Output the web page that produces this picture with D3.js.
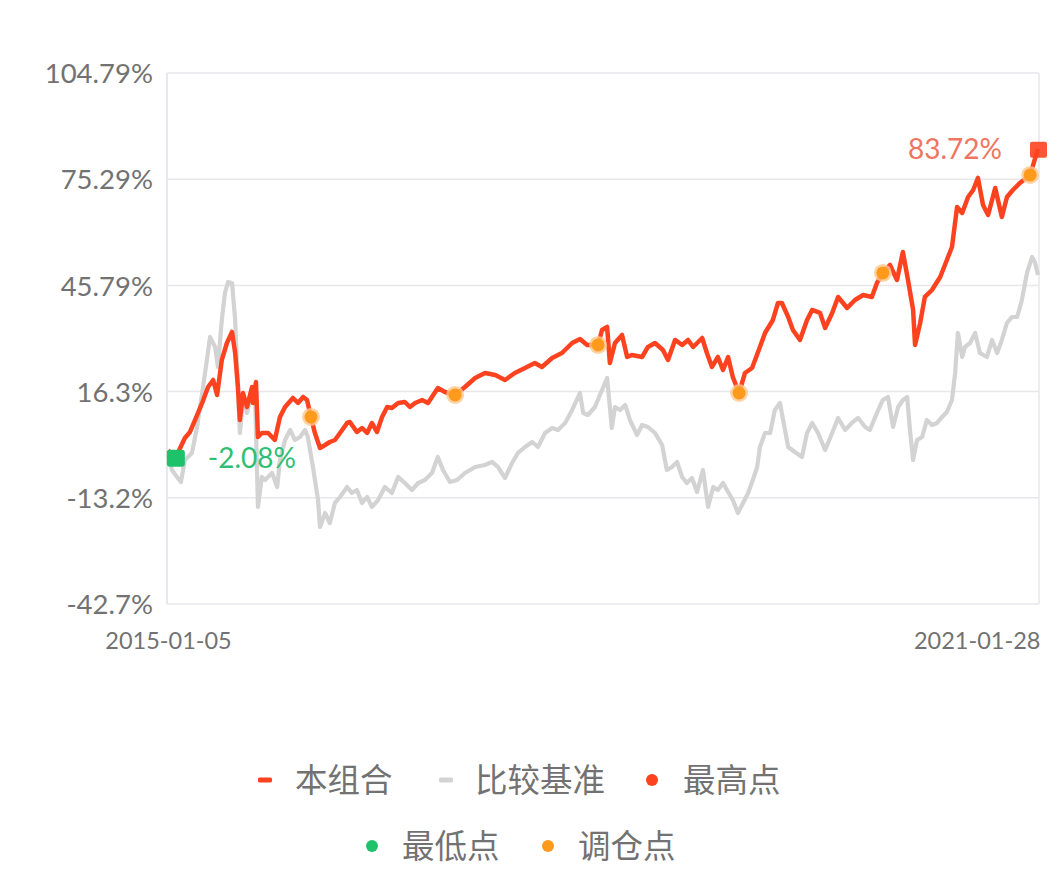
<!DOCTYPE html>
<html>
<head>
<meta charset="utf-8">
<script src="https://cdn.jsdelivr.net/npm/d3@7/dist/d3.min.js"></script>
<style>
  html, body { margin: 0; padding: 0; background: #ffffff; }
  svg { display: block; }
</style>
</head>
<body>
<svg id="chart" width="1063" height="885"></svg>
<script>
// ---- DATA (days since 2015-01-05, cumulative return %) ----
const startDate = "2015-01-05";
const endDate = "2021-01-28";
const xTickLabels = ["2015-01-05", "2021-01-28"];
const yTickValues = [-42.7, -13.2, 16.3, 45.79, 75.29, 104.79];
const yTickLabels = ["-42.7%", "-13.2%", "16.3%", "45.79%", "75.29%", "104.79%"];

const portfolioDays = [0,20,31,43,56,69,87,102,115,125,137,150,163,171,178,183,191,201,214,216,224,229,239,255,272,285,298,318,331,344,354,364,374,387,400,412,425,438,456,463,481,494,507,519,532,545,558,570,586,603,616,629,647,662,672,687,705,731,756,782,807,833,858,883,909,934,952,978,1003,1029,1049,1067,1095,1105,1118,1125,1138,1156,1169,1181,1207,1222,1240,1260,1273,1291,1309,1324,1337,1360,1372,1385,1400,1413,1426,1438,1454,1469,1487,1507,1520,1540,1553,1563,1579,1591,1609,1627,1640,1660,1673,1691,1706,1729,1749,1770,1792,1805,1820,1838,1856,1871,1884,1897,1902,1915,1927,1945,1966,1983,1996,2009,2022,2037,2050,2062,2075,2088,2106,2123,2136,2151,2169,2195,2215];
const portfolioValues = [0.0,-2.08,0.64,3.41,5.08,8.41,13.14,17.58,19.52,15.36,25.08,29.8,32.86,27.02,17.58,8.41,15.91,12.02,17.58,13.14,18.97,3.69,4.8,4.8,2.86,9.25,12.02,14.52,13.14,14.8,13.97,9.25,4.8,0.64,1.47,2.3,2.86,4.8,7.58,7.86,5.08,6.19,4.8,7.58,5.08,9.25,12.02,11.75,13.14,13.41,12.02,13.14,13.97,13.14,14.8,17.3,16.19,15.36,17.58,20.08,21.47,20.91,19.52,21.47,22.86,24.25,23.14,25.64,27.02,29.8,30.91,29.25,29.25,33.41,34.25,24.25,29.8,32.02,25.91,26.47,25.91,28.69,29.8,27.86,25.08,30.64,29.25,30.64,28.69,31.19,27.02,23.14,25.91,22.3,25.91,20.36,15.91,21.47,22.86,28.69,32.58,36.19,40.91,40.91,37.02,33.41,30.64,36.19,38.97,38.14,33.97,38.14,42.58,39.52,41.75,43.14,42.58,46.47,49.25,51.47,47.3,55.08,47.3,38.97,29.25,35.36,42.58,44.52,48.14,52.86,56.47,67.58,65.91,70.36,72.3,75.64,68.14,65.36,72.86,64.8,70.36,72.3,74.25,76.47,83.72];

const benchmarkDays = [0,10,23,33,43,61,74,87,99,107,120,127,137,145,153,163,171,178,183,191,201,214,222,229,239,247,265,278,285,298,311,323,336,349,356,369,382,387,400,412,425,438,456,468,481,494,507,519,535,552,570,586,603,621,637,654,672,687,700,718,736,756,782,807,825,840,858,876,891,909,927,942,960,978,993,1011,1029,1049,1057,1069,1087,1105,1118,1130,1138,1151,1164,1176,1194,1207,1222,1240,1258,1270,1283,1296,1309,1321,1334,1347,1362,1375,1388,1400,1413,1426,1438,1451,1464,1477,1489,1500,1507,1520,1533,1545,1558,1566,1579,1596,1614,1627,1640,1655,1673,1691,1706,1724,1741,1757,1775,1787,1805,1820,1833,1846,1859,1871,1882,1889,1897,1907,1920,1932,1945,1958,1971,1983,1996,2004,2011,2022,2029,2042,2055,2067,2085,2098,2111,2123,2136,2149,2162,2174,2187,2200,2207,2215];
const benchmarkValues = [-1.31,-5.48,-7.42,-8.81,-2.7,-0.75,6.47,15.91,25.08,31.47,28.69,23.14,36.19,43.69,46.75,46.47,36.19,17.58,4.8,13.97,10.36,15.91,13.97,-15.75,-7.42,-8.25,-6.31,-10.2,-2.7,2.86,5.64,2.86,3.69,5.64,3.69,-4.64,-13.81,-21.31,-17.42,-20.2,-14.64,-12.98,-10.2,-11.86,-11.03,-14.64,-12.98,-15.75,-13.81,-10.2,-11.86,-7.42,-9.09,-11.03,-9.09,-8.25,-6.31,-1.86,-5.48,-8.81,-8.25,-6.31,-4.64,-4.09,-3.25,-4.64,-7.7,-3.53,-0.75,0.91,2.3,0.91,4.8,6.19,5.64,7.58,11.19,15.91,10.36,9.8,12.02,16.75,20.08,6.19,12.02,11.19,12.58,8.41,4.25,7.02,6.47,4.8,1.47,-5.48,-4.64,-3.25,-7.42,-9.09,-7.7,-11.59,-5.48,-15.75,-10.2,-11.03,-9.09,-11.59,-13.81,-17.42,-14.64,-11.86,-8.25,-4.64,0.91,4.8,4.8,11.19,13.14,8.41,0.91,-0.48,-1.86,4.8,7.58,4.8,0.08,4.8,8.97,5.64,7.58,8.97,6.47,5.64,10.36,13.97,14.8,6.47,12.02,13.97,14.8,5.64,-2.7,2.86,3.69,8.41,7.02,7.58,9.25,10.64,13.97,21.47,32.58,25.91,28.69,29.8,32.58,27.02,25.91,30.64,27.02,30.64,35.36,37.02,37.02,41.75,49.25,53.69,52.3,48.69];

const rebalanceDays = [364, 731, 1095, 1454, 1820, 2195];
const rebalanceValues = [9.25, 15.36, 29.25, 15.91, 49.25, 76.47];

const minPoint = { day: 20, value: -2.08, label: "-2.08%" };
const maxPoint = { day: 2215, value: 83.72, label: "83.72%" };

const legendRow1 = ["本组合", "比较基准", "最高点"];
const legendRow2 = ["最低点", "调仓点"];

(function draw() {
  const C = {
    red: "#fd4220",
    gray: "#d3d3d3",
    orange: "#ff9a1c",
    green: "#1ec26a",
    maxText: "#ef7560",
    minText: "#2fbf74",
    grid: "#e7e7ec",
    text: "#727272"
  };
  const numFont = "Lato, 'Open Sans', sans-serif";

  const svg = d3.select("#chart");
  const pL = 167, pR = 1039, pT = 73, pB = 604;

  const x = d3.scaleLinear().domain([0, 2215]).range([168, 1038]);
  const y = d3.scaleLinear().domain([-42.7, 104.79]).range([pB, pT]);

  svg.append("g").selectAll("line").data(yTickValues).join("line")
    .attr("x1", pL).attr("x2", pR)
    .attr("y1", d => y(d)).attr("y2", d => y(d))
    .attr("stroke", C.grid).attr("stroke-width", 1.5);

  svg.append("line").attr("x1", pL).attr("x2", pL).attr("y1", pT).attr("y2", pB)
    .attr("stroke", C.grid).attr("stroke-width", 2);
  svg.append("line").attr("x1", pR).attr("x2", pR).attr("y1", pT).attr("y2", pB)
    .attr("stroke", C.grid).attr("stroke-width", 1.5);

  const yAxis = d3.axisLeft(y).tickValues(yTickValues)
    .tickFormat((d, i) => yTickLabels[i]).tickSize(0).tickPadding(14);
  const gy = svg.append("g").attr("transform", `translate(${pL},0)`).call(yAxis);
  gy.select(".domain").remove();
  gy.selectAll("text").attr("fill", C.text).style("font-family", numFont)
    .style("font-size", "27.5px").attr("dy", "0.35em");

  const xAxis = d3.axisBottom(x).tickValues([0, 2215])
    .tickFormat((d, i) => xTickLabels[i]).tickSize(0).tickPadding(28);
  const gx = svg.append("g").attr("transform", `translate(0,${pB})`).call(xAxis);
  gx.select(".domain").remove();
  gx.selectAll("text").attr("fill", C.text).style("font-family", numFont)
    .style("font-size", "23.5px");
  gx.selectAll("text").filter((d, i) => i === 1).attr("text-anchor", "end").attr("x", 2);

  const bench = benchmarkDays.map((d, i) => [d, benchmarkValues[i]]);
  const port = portfolioDays.map((d, i) => [d, portfolioValues[i]]);
  const line = d3.line().x(d => x(d[0])).y(d => y(d[1])).curve(d3.curveLinear);

  svg.append("path").datum(bench).attr("d", line)
    .attr("fill", "none").attr("stroke", C.gray).attr("stroke-width", 4.2)
    .attr("stroke-linejoin", "round");
  svg.append("path").datum(port).attr("d", line)
    .attr("fill", "none").attr("stroke", C.red).attr("stroke-width", 4.5)
    .attr("stroke-linejoin", "round");

  const rb = rebalanceDays.map((d, i) => [d, rebalanceValues[i]]);
  svg.append("g").selectAll("circle").data(rb).join("circle")
    .attr("cx", d => x(d[0])).attr("cy", d => y(d[1])).attr("r", 9)
    .attr("fill", "#ffc78a").attr("opacity", 0.8);
  svg.append("g").selectAll("circle").data(rb).join("circle")
    .attr("cx", d => x(d[0])).attr("cy", d => y(d[1])).attr("r", 6.5)
    .attr("fill", C.orange);

  svg.append("rect")
    .attr("x", x(minPoint.day) - 9).attr("y", y(minPoint.value) - 8)
    .attr("width", 18).attr("height", 17).attr("rx", 3)
    .attr("fill", C.green);
  svg.append("text").text(minPoint.label)
    .attr("x", x(minPoint.day) + 32).attr("y", y(minPoint.value))
    .attr("dy", "0.35em").attr("fill", C.minText)
    .style("font-family", numFont).style("font-size", "28px");

  svg.append("rect")
    .attr("x", x(maxPoint.day) - 8).attr("y", y(maxPoint.value) - 7)
    .attr("width", 17).attr("height", 16).attr("rx", 2)
    .attr("fill", C.red).attr("opacity", 0.9);
  svg.append("text").text(maxPoint.label)
    .attr("x", x(maxPoint.day) - 36).attr("y", y(maxPoint.value))
    .attr("dy", "0.35em").attr("text-anchor", "end").attr("fill", C.maxText)
    .style("font-family", numFont).style("font-size", "28px");

  const lf = "'Noto Sans CJK SC', sans-serif";
  const lg = svg.append("g").style("font-family", lf).style("font-size", "32.5px").attr("fill", C.text);
  const row1 = [
    { type: "dash", color: C.red, mx: 265, tx: 295, label: legendRow1[0] },
    { type: "dash", color: C.gray, mx: 446, tx: 475, label: legendRow1[1] },
    { type: "dot", color: C.red, mx: 652, tx: 683, label: legendRow1[2] }
  ];
  const row2 = [
    { type: "dot", color: C.green, mx: 372, tx: 402, label: legendRow2[0] },
    { type: "dot", color: C.orange, mx: 548, tx: 578, label: legendRow2[1] }
  ];
  function drawRow(items, cy) {
    items.forEach(it => {
      if (it.type === "dash") {
        lg.append("rect").attr("x", it.mx - 7).attr("y", cy - 2.5).attr("width", 14).attr("height", 5)
          .attr("rx", 1.5).attr("fill", it.color);
      } else {
        lg.append("circle").attr("cx", it.mx).attr("cy", cy).attr("r", 6).attr("fill", it.color);
      }
      lg.append("text").text(it.label).attr("x", it.tx).attr("y", cy).attr("dy", "0.36em");
    });
  }
  drawRow(row1, 780);
  drawRow(row2, 846);
})();
</script>
</body>
</html>
